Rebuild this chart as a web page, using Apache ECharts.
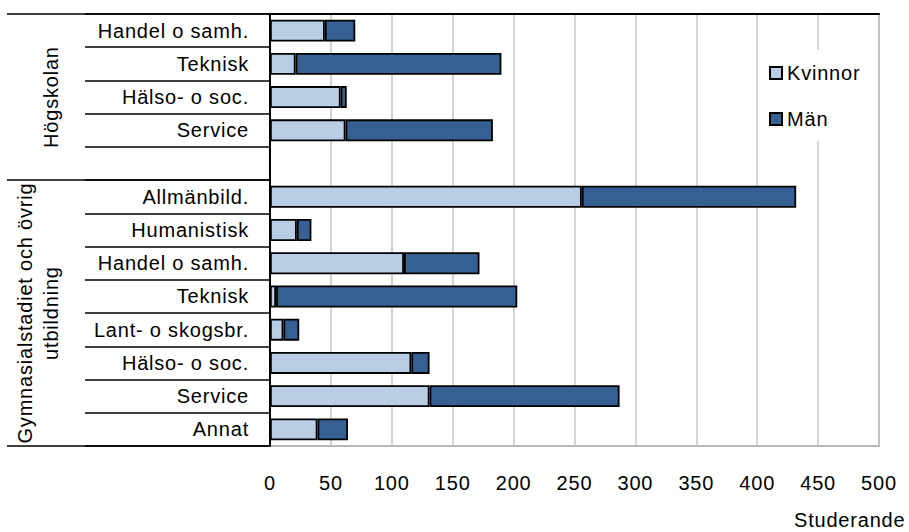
<!DOCTYPE html>
<html><head><meta charset="utf-8">
<script src="https://cdn.jsdelivr.net/npm/echarts@6/dist/echarts.min.js"></script>
<style>
html,body{margin:0;padding:0;background:#fff}
#c{width:909px;height:532px}
#c text{letter-spacing:0.8px}
</style>
</head><body><div id="c"></div>
<script>
const categories = ['Handel o samh.','Teknisk','Hälso- o soc.','Service','','Allmänbild.','Humanistisk','Handel o samh.','Teknisk','Lant- o skogsbr.','Hälso- o soc.','Service','Annat'];
const kvinnor = [45,21,58,62,null,256,22,110,5,11,116,131,39];
const man =     [25,169,5,121,null,176,12,62,198,13,15,156,25];
const groupNames = ['Högskolan','Gymnasialstadiet och övrig\nutbildning'];
const groupBounds = [0,5,13];
const groupCenters = [2.5,9];
const seriesNames = ['Kvinnor','Män'];
const axisTitle = 'Studerande';

const FONT = '"Liberation Sans", Arial, Helvetica, sans-serif';
const FS = 20;
const chart = echarts.init(document.getElementById('c'), null, {renderer:'svg'});
chart.setOption({
  animation:false,
  backgroundColor:'#fff',
  textStyle:{fontFamily:FONT},
  grid:{left:270,right:30,top:14,bottom:86,show:true,borderColor:'#a0a0a0',borderWidth:1.5,backgroundColor:'transparent'},
  legend:{
    data:seriesNames, orient:'vertical', left:762, top:50,
    itemWidth:12, itemHeight:12, itemGap:26, icon:'rect',
    padding:[13,14,12,7], backgroundColor:'#fff',
    textStyle:{fontSize:FS,color:'#000',fontFamily:FONT}
  },
  xAxis:[{
    type:'value', min:0, max:500, interval:50, position:'bottom',
    axisLine:{show:true,lineStyle:{color:'#a0a0a0',width:1.5}},
    axisTick:{show:false},
    splitLine:{show:true,lineStyle:{color:'#c4c4c4',width:1.5}},
    axisLabel:{fontSize:FS,color:'#000',margin:27,fontFamily:FONT}
  },{
    type:'value', min:0, max:500, position:'top',
    axisLine:{show:true,lineStyle:{color:'#000',width:2}},
    axisTick:{show:false}, axisLabel:{show:false}, splitLine:{show:false}
  }],
  yAxis:[{
    type:'category', data:categories, inverse:true, position:'left',
    axisLine:{show:true,lineStyle:{color:'#000',width:2}},
    axisTick:{show:true,interval:0,length:185,lineStyle:{color:'#000',width:1.5}},
    axisLabel:{interval:0,margin:21,fontSize:FS,color:'#000',fontFamily:FONT},
    splitLine:{show:false}
  },{
    type:'value', min:0, max:13, inverse:true, position:'left', offset:0,
    axisLine:{show:false}, splitLine:{show:false},
    axisTick:{show:true,customValues:groupBounds,length:263,lineStyle:{color:'#000',width:1.5}},
    axisLabel:{show:true,customValues:groupCenters,rotate:90,margin:206,fontSize:FS,lineHeight:26,color:'#000',fontFamily:FONT,
      formatter:function(v){ const i = groupCenters.indexOf(v); return i>=0 ? groupNames[i] : ''; }}
  }],
  series:[{
    name:seriesNames[0], type:'bar', stack:'total', data:kvinnor, yAxisIndex:0, xAxisIndex:0,
    barCategoryGap:'34%',
    itemStyle:{color:'#b9cde5',borderColor:'#000',borderWidth:1.8}
  },{
    name:seriesNames[1], type:'bar', stack:'total', data:man, yAxisIndex:0, xAxisIndex:0,
    barCategoryGap:'34%',
    itemStyle:{color:'#376092',borderColor:'#000',borderWidth:1.8}
  }],
  graphic:[{type:'text', left:794, top:510, style:{text:axisTitle, font:FS+'px '+FONT, fill:'#000'}}]
});
</script></body></html>
